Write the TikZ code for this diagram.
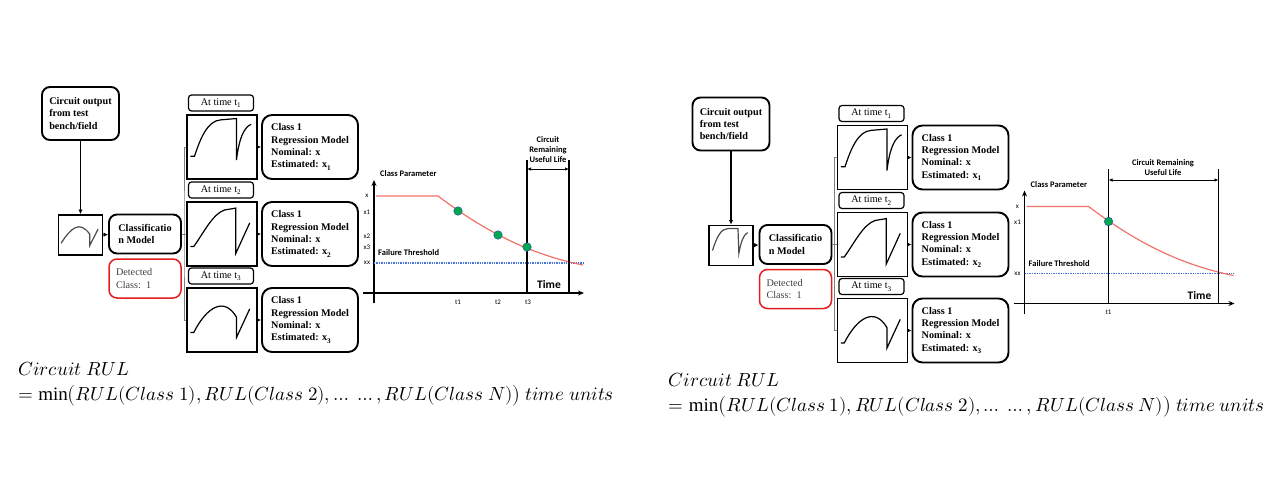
\documentclass[tikz,border=0pt]{standalone}
\usepackage{fontspec}
\usepackage{unicode-math}
\setmainfont{Liberation Serif}
\newfontfamily\chartfont{Carlito}
\usetikzlibrary{arrows.meta}
\definecolor{curvered}{RGB}{240,115,105}
\definecolor{dotgreen}{RGB}{0,168,80}
\definecolor{threshblue}{RGB}{70,115,215}
\definecolor{boxred}{RGB}{228,30,30}

\begin{document}
\begin{tikzpicture}[x=1pt, y=-1pt,
                rbox/.style={draw, line width=1.9pt, rounded corners=8pt, align=left, font=\fontsize{10.2}{12.3}\selectfont\bfseries},
                sigbox/.style={draw, line width=1.9pt, minimum width=70pt, minimum height=64pt, inner sep=0pt},
                timebox/.style={draw, line width=1.2pt, rounded corners=3pt, minimum width=65pt, minimum height=16pt, inner sep=0pt, font=\fontsize{10.2}{12}\selectfont},
                sig/.style={line width=1.2pt},
                arr/.style={-{Latex[length=4.5pt,width=4.5pt]}, line width=1.4pt},
                branch/.style={draw=gray, line width=0.9pt},
                axis/.style={-{Stealth[length=6pt,width=5pt]}, line width=1.6pt},
                vline/.style={line width=1.5pt},
                dim/.style={{Latex[length=4pt,width=3.5pt]}-{Latex[length=4pt,width=3.5pt]}, line width=1pt},
                curve/.style={draw=curvered, line width=1.2pt},
                thresh/.style={draw=threshblue, line width=1.4pt, densely dotted},
                lbl/.style={font=\chartfont\bfseries\fontsize{8.5}{10}\selectfont, align=center, inner sep=0pt},
                tick/.style={font=\chartfont\fontsize{7}{8}\selectfont, inner sep=0pt},
                gdot/.style={circle, fill=dotgreen, draw=threshblue!70!black, line width=0.5pt, minimum size=8.5pt, inner sep=0pt},
                rul/.style={font=\fontsize{19}{25}\selectfont, align=left, anchor=west, inner sep=0pt}]
                \useasboundingbox (0,0) rectangle (1280,501);
                \foreach \p/\dx/\dy in {L/0/0, R/650.5/10.5}{
                \begin{scope}[shift={(\dx,\dy)}]
                \node[rbox, minimum width=77pt, minimum height=53pt] (src\p) at (80.5,113.5) {Circuit output\\from test\\bench/field};
                \node[sigbox, minimum width=44pt, minimum height=40pt] (wv\p) at (80.5,235) {};
                \node[rbox, minimum width=72pt, minimum height=39pt] (cls\p) at (145,234) {Classificatio\\n Model};
                \node[rbox, draw=boxred, line width=1.5pt, minimum width=72pt, minimum height=39pt, text width=58pt, font=\fontsize{10.2}{12.3}\selectfont, text=black!75] (det\p) at (145,278.5) {Detected\\Class: 1};
                \coordinate (br\p) at (184,234);
                \foreach \r/\y in {1/147, 2/234, 3/320}{
                \node[timebox] (at\p\r) at (221,\y-44) {At time t\textsubscript{\r}};
                \node[sigbox] (sig\p\r) at (222,\y) {};
                \node[rbox, minimum width=96pt, minimum height=64pt, rounded corners=10pt] (reg\p\r) at (310,\y) {Class 1\\Regression Model\\Nominal: x\\Estimated: x\textsubscript{\r}};
                \draw[arr] (sig\p\r) -- (reg\p\r);
                }
                \draw[arr] (src\p) -- (wv\p);
                \draw[arr] (wv\p) -- (cls\p);
                \draw[branch] (cls\p) -- (sig\p2);
                \draw[branch] (sig\p1.west) -| (br\p) |- (sig\p3.west);
                \begin{scope}[shift={(sig\p1.north west)}, x=70pt, y=-64pt]
                \draw[sig] (0.06,0.66) -- (0.12,0.66) .. controls (0.2,0.4) and (0.3,0.1) .. (0.5,0.09) -- (0.72,0.07) -- (0.72,0.72) .. controls (0.76,0.35) and (0.84,0.2) .. (0.93,0.16);
                \end{scope}
                \begin{scope}[shift={(sig\p2.north west)}, x=70pt, y=-64pt]
                \draw[sig] (0.06,0.71) -- (0.11,0.71) .. controls (0.25,0.5) and (0.38,0.2) .. (0.55,0.14) -- (0.71,0.11) -- (0.71,0.82) -- (0.91,0.34);
                \end{scope}
                \begin{scope}[shift={(sig\p3.north west)}, x=70pt, y=-64pt]
                \draw[sig] (0.06,0.71) -- (0.11,0.71) .. controls (0.3,0.3) and (0.55,0.15) .. (0.72,0.47) -- (0.72,0.79) -- (0.91,0.34);
                \end{scope}
                \draw[axis] (374,303) -- (374,180);
                \draw[axis] (363,293) -- (584,293);
                \draw[thresh] (374,263) -- (583,263);
                \draw[curve] (376,196) -- (438,196) .. controls (478,226) and (523,253) .. (583,265);
                \node[lbl, anchor=west] (cp\p) at (380,174) {Class Parameter};
                \node[lbl, anchor=west] (ft\p) at (378,253) {Failure Threshold};
                \node[lbl, font=\chartfont\bfseries\fontsize{11.5}{12}\selectfont] (time\p) at (549,285) {Time};
                \node[tick] (yx\p) at (367,196) {x};
                \node[tick] (yxa\p) at (367,212) {x1};
                \node[tick] (yxx\p) at (367,263) {xx};
                \node[rul] (rul\p) at (18,385) {$Circuit\ RUL$\\$=\min\bigl(RUL(Class\ 1), RUL(Class\ 2), \ldots\ \ldots, RUL(Class\ N)\bigr)\ time\ units$};
                \end{scope}
                }
                \begin{scope}[shift={(wvL.north west)}, x=44pt, y=-40pt]
                \draw[sig, draw=black!70] (0.08,0.73) .. controls (0.3,0.35) and (0.5,0.15) .. (0.73,0.5) -- (0.73,0.79) -- (0.92,0.38);
                \end{scope}
                \begin{scope}[shift={(wvR.north west)}, x=44pt, y=-40pt]
                \draw[sig, draw=black!70] (0.1,0.65) .. controls (0.2,0.3) and (0.3,0.1) .. (0.45,0.1) -- (0.68,0.1) -- (0.7,0.72) .. controls (0.75,0.4) and (0.82,0.25) .. (0.9,0.2);
                \end{scope}
                \node[tick] (yxbL) at (367,236) {x2};
                \node[tick] (yxcL) at (367,247) {x3};
                \coordinate (laL) at (527,160);
                \coordinate (lbL) at (569,160);
                \draw[vline] (laL) -- (laL |- 0,293);
                \draw[vline] (lbL) -- (lbL |- 0,293);
                \draw[dim] (laL |- 0,169) -- (lbL |- 0,169);
                \node[lbl] (rulL) at (548,150) {Circuit\\Remaining\\Useful Life};
                \node[gdot] (d1L) at (458,211) {};
                \node[gdot] (d2L) at (498,235) {};
                \node[gdot] (d3L) at (527,247) {};
                \node[tick] (t1L) at (458,302) {t1};
                \node[tick] (t2L) at (498,302) {t2};
                \node[tick] (t3L) at (528,302) {t3};
                \begin{scope}[shift={(650.5,10.5)}]
                \coordinate (laR) at (458,158.5);
                \coordinate (lbR) at (568,158.5);
                \draw[vline] (laR) -- (laR |- 0,293);
                \draw[vline] (lbR) -- (lbR |- 0,293);
                \draw[dim] (laR |- 0,169.5) -- (lbR |- 0,169.5);
                \node[lbl] (rulR) at (512.5,157) {Circuit Remaining\\Useful Life};
                \node[gdot] (d1R) at (458,211) {};
                \node[tick] (t1R) at (458,302) {t1};
                \end{scope}
\end{tikzpicture}
\end{document}
